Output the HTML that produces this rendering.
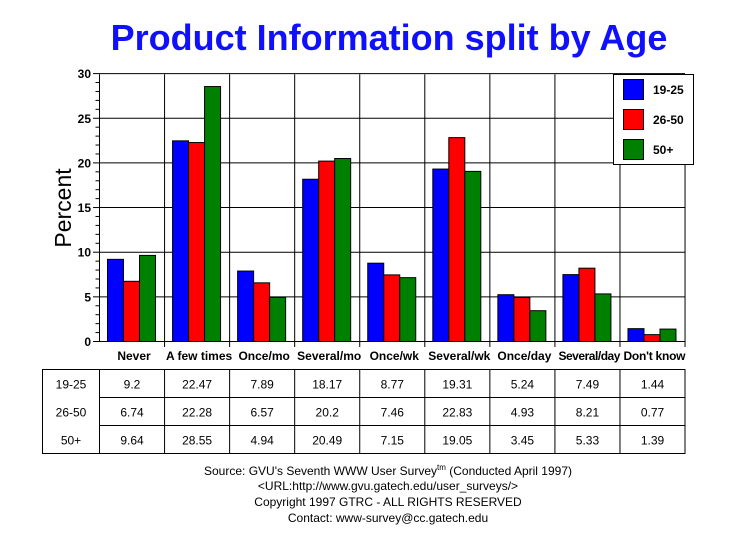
<!DOCTYPE html><html><head><style>body{margin:0;background:#fff}</style></head><body>
<svg width="729" height="553" xmlns="http://www.w3.org/2000/svg" font-family="Liberation Sans, Arial, sans-serif">
<text x="389" y="50" text-anchor="middle" font-size="36" font-weight="bold" fill="#1010ff">Product Information split by Age</text>
<text transform="translate(71,208) rotate(-90)" text-anchor="middle" font-size="23" fill="#000">Percent</text>
<g id="g"></g>
<rect x="613.5" y="74.5" width="80" height="90" fill="#fff" stroke="#000"/>
<rect x="623.5" y="79.5" width="20" height="20" fill="#0000ff" stroke="#000"/>
<rect x="623.5" y="109.5" width="20" height="20" fill="#ff0000" stroke="#000"/>
<rect x="623.5" y="139.5" width="20" height="20" fill="#008000" stroke="#000"/>
<g font-size="12" font-weight="bold"><text x="653" y="94">19-25</text><text x="653" y="124">26-50</text><text x="653" y="154">50+</text></g>
<g font-size="12" text-anchor="middle">
<text x="388" y="475">Source: GVU's Seventh WWW User Survey<tspan font-size="8" dy="-5">tm</tspan><tspan dy="5"> (Conducted April 1997)</tspan></text>
<text x="388" y="490">&lt;URL:http://www.gvu.gatech.edu/user_surveys/&gt;</text>
<text x="388" y="506">Copyright 1997 GTRC - ALL RIGHTS RESERVED</text>
<text x="388" y="522">Contact: www-survey@cc.gatech.edu</text>
</g>
</svg>
<script>
var cats=["Never","A few times","Once/mo","Several/mo","Once/wk","Several/wk","Once/day","Several/day","Don't know"];
var d=[[9.2,22.47,7.89,18.17,8.77,19.31,5.24,7.49,1.44],[6.74,22.28,6.57,20.2,7.46,22.83,4.93,8.21,0.77],[9.64,28.55,4.94,20.49,7.15,19.05,3.45,5.33,1.39]];
var cols=["#0000ff","#ff0000","#008000"],names=["19-25","26-50","50+"];
var x0=99.5,w=65.06,y0=341.5,k=8.93,s="";
for(var i=1;i<=6;i++){var y=y0-i*5*k;s+='<line x1="'+x0+'" x2="685" y1="'+y+'" y2="'+y+'" stroke="#000"/>';}
for(var i=0;i<=9;i++){var x=x0+i*w;s+='<line x1="'+x+'" x2="'+x+'" y1="74.3" y2="'+(i==0?341.5:347)+'" stroke="#000"/>';}
s+='<line x1="'+x0+'" x2="685" y1="341.5" y2="341.5" stroke="#000"/>';
for(var v=0;v<=30;v++){var y=y0-v*k;s+='<line x1="'+(v%5?95.5:93)+'" x2="99.5" y1="'+y+'" y2="'+y+'" stroke="#000"/>';if(v%5==0)s+='<text x="91" y="'+(y+4.5)+'" text-anchor="end" font-size="12" font-weight="bold">'+v+'</text>';}
for(var c=0;c<9;c++){for(var j=0;j<3;j++){var h=d[j][c]*k;s+='<rect x="'+(x0+c*w+8+j*16)+'" y="'+(y0-h)+'" width="16" height="'+h+'" fill="'+cols[j]+'" stroke="#000"/>';}
s+='<text x="'+(x0+c*w+w/2+2)+'" y="360" text-anchor="middle" font-size="12" font-weight="bold" textLength="'+(c==7||c==8?62:0)+'">'+cats[c].replace("'","&#39;")+'</text>';}
s=s.replace(/ textLength="0"/g,"");
var rows=[369.5,397.5,425.5,453.5];
s+='<rect x="42.5" y="369.5" width="642.5" height="84" fill="none" stroke="#000"/>';
for(var r=1;r<3;r++)s+='<line x1="99.5" x2="685" y1="'+rows[r]+'" y2="'+rows[r]+'" stroke="#000"/>';
for(var i=0;i<9;i++){var x=x0+i*w;s+='<line x1="'+x+'" x2="'+x+'" y1="369.5" y2="453.5" stroke="#000"/>';}
for(var r=0;r<3;r++){var y=rows[r]+19;s+='<text x="71" y="'+y+'" text-anchor="middle" font-size="12">'+names[r]+'</text>';
for(var c=0;c<9;c++)s+='<text x="'+(x0+c*w+w/2)+'" y="'+y+'" text-anchor="middle" font-size="12">'+d[r][c]+'</text>';}
document.getElementById("g").innerHTML=s;
</script>
</body></html>
